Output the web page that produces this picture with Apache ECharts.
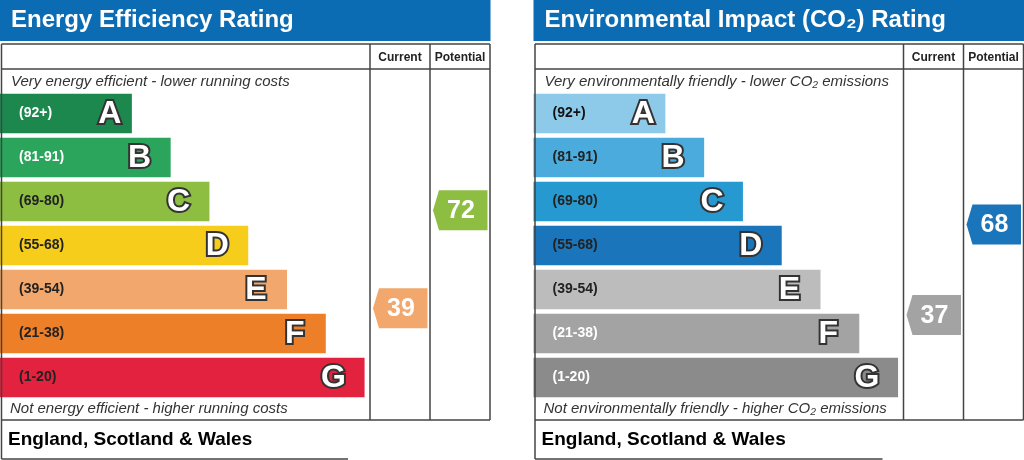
<!DOCTYPE html>
<html>
<head>
<meta charset="utf-8">
<script src="https://cdn.jsdelivr.net/npm/echarts@6/dist/echarts.min.js"></script>
<style>
html,body{margin:0;padding:0;background:#fff;}
#c{width:1024px;height:460px;}
</style>
</head>
<body>
<div id="c"></div>
<script>
// ---------- data ----------
const bandLetters = ['A', 'B', 'C', 'D', 'E', 'F', 'G'];
const bandRanges = ['(92+)', '(81-91)', '(69-80)', '(55-68)', '(39-54)', '(21-38)', '(1-20)'];
const bandMin = [92, 81, 69, 55, 39, 21, 1];
const bandLength = [34, 44, 54, 64, 74, 84, 94];
const energyColors = ['#1c884e', '#2ba45c', '#8dbd41', '#f6cd1a', '#f2a86c', '#ec7f28', '#e2223e'];
const energyRangeText = ['#fff', '#fff', '#222', '#222', '#222', '#222', '#222'];
const co2Colors = ['#8dcaea', '#4aabdc', '#2699d1', '#1b75ba', '#bcbcbc', '#a3a3a3', '#8b8b8b'];
const co2RangeText = ['#111', '#222', '#222', '#222', '#222', '#fff', '#fff'];
const ratingColumns = ['Current', 'Potential'];
const energyRatings = [39, 72];
const co2Ratings = [37, 68];

const FONT = '"Liberation Sans", Arial, Helvetica, sans-serif';
const LINE = '#444';

function bandIndex(v) {
  for (let i = 0; i < bandMin.length; i++) if (v >= bandMin[i]) return i;
  return bandMin.length - 1;
}

function bandSeries(gridIdx, colors, rangeText) {
  const main = {
    type: 'bar', xAxisIndex: gridIdx, yAxisIndex: gridIdx, barWidth: 39.5, silent: true,
    data: bandLength.map((v, i) => ({
      value: v,
      itemStyle: { color: colors[i] },
      label: { color: rangeText[i] }
    })),
    label: {
      show: true, position: 'insideLeft', distance: 19,
      formatter: p => bandRanges[p.dataIndex],
      fontFamily: FONT, fontSize: 14, fontWeight: 'bold'
    },
    z: 2
  };
  const letters = {
    type: 'bar', xAxisIndex: gridIdx, yAxisIndex: gridIdx, barWidth: 39.5, barGap: '-100%', silent: true,
    data: bandLength.map((v, i) => ({
      value: v,
      label: { offset: [i === 0 ? -22 : -31, 1] }
    })),
    itemStyle: { color: 'rgba(0,0,0,0)' },
    label: {
      show: true, position: ['100%', '50%'], align: 'center', verticalAlign: 'middle',
      formatter: p => bandLetters[p.dataIndex],
      fontFamily: FONT, fontSize: 32, fontWeight: 'bold',
      color: '#fff', textBorderColor: '#333', textBorderWidth: 4
    },
    z: 3
  };
  return [main, letters];
}

function arrowSeries(gridIdx, ratings, colors) {
  return {
    type: 'custom', xAxisIndex: gridIdx, yAxisIndex: gridIdx, silent: true,
    data: ratings.map((v, i) => [i, v]),
    renderItem: function (params, api) {
      const v = api.value(1);
      const p = api.coord([api.value(0), v]);
      const cx = p[0], cy = p[1], h = 20;
      const pts = [[cx - 27, cy], [cx - 21, cy - h], [cx + 27.5, cy - h], [cx + 27.5, cy + h], [cx - 21, cy + h]];
      return {
        type: 'group',
        children: [
          { type: 'polygon', shape: { points: pts }, style: { fill: colors[bandIndex(v)] } },
          {
            type: 'text', x: cx + 1, y: cy + 1,
            style: {
              text: String(v), fill: '#fff', fontFamily: FONT, fontSize: 25, fontWeight: 'bold',
              align: 'center', verticalAlign: 'middle', textAlign: 'center', textVerticalAlign: 'middle'
            }
          }
        ]
      };
    },
    z: 4
  };
}

// ---------- frame (decoration) ----------
function panelGraphics(ox, footerW, title, topText, bottomText) {
  const els = [];
  const line = (x1, y1, x2, y2) => els.push({
    type: 'line', z: 100, shape: { x1: x1, y1: y1, x2: x2, y2: y2 },
    style: { stroke: LINE, lineWidth: 1.5 }
  });
  const text = (x, y, t, font, fill, align) => els.push({
    type: 'text', z: 101, x: x, y: y,
    style: {
      text: t, font: font, fill: fill,
      align: align || 'left', verticalAlign: 'middle',
      textAlign: align || 'left', textVerticalAlign: 'middle'
    }
  });
  els.push({ type: 'rect', z: 99, shape: { x: ox, y: 0, width: 490.5, height: 41 }, style: { fill: '#0c6cb3' } });
  text(ox + 11, 20.5, title, 'bold 24px ' + FONT, '#fff');
  // table
  line(ox + 1.5, 44, ox + 490, 44);
  line(ox + 1.5, 69, ox + 490, 69);
  line(ox + 1.5, 420, ox + 490, 420);
  line(ox + 1.5, 44, ox + 1.5, 459);
  line(ox + 370, 44, ox + 370, 420);
  line(ox + 430, 44, ox + 430, 420);
  line(ox + 490, 44, ox + 490, 420);
  line(ox + 1.5, 459, ox + footerW, 459);
  text(ox + 400, 57.5, ratingColumns[0], 'bold 12px ' + FONT, '#222', 'center');
  text(ox + 460, 57.5, ratingColumns[1], 'bold 12px ' + FONT, '#222', 'center');
  text(ox + 11, 81.5, topText, 'italic 15px ' + FONT, '#333');
  text(ox + 10, 408.5, bottomText, 'italic 15px ' + FONT, '#333');
  text(ox + 8, 439.5, 'England, Scotland & Wales', 'bold 19px ' + FONT, '#000');
  return els;
}

const graphics = [].concat(
  panelGraphics(0, 348, 'Energy Efficiency Rating',
    'Very energy efficient - lower running costs', 'Not energy efficient - higher running costs'),
  panelGraphics(533.5, 349, 'Environmental Impact (CO\u2082) Rating',
    'Very environmentally friendly - lower CO\u2082 emissions', 'Not environmentally friendly - higher CO\u2082 emissions')
);

const hiddenVal = (max) => ({ type: 'value', min: 0, max: max, show: false, splitLine: { show: false } });
const hiddenCatY = (gi) => ({ type: 'category', gridIndex: gi, data: bandLetters, inverse: true, show: false });

const option = {
  animation: false,
  backgroundColor: '#fff',
  grid: [
    { left: 0, top: 91.5, width: 370, height: 308 },
    { left: 370, top: 127, width: 120, height: 297 },
    { left: 533.5, top: 91.5, width: 370, height: 308 },
    { left: 903.5, top: 131, width: 120, height: 292 }
  ],
  xAxis: [
    Object.assign(hiddenVal(95.4), { gridIndex: 0 }),
    { type: 'category', gridIndex: 1, data: ratingColumns, show: false },
    Object.assign(hiddenVal(95.4), { gridIndex: 2 }),
    { type: 'category', gridIndex: 3, data: ratingColumns, show: false }
  ],
  yAxis: [
    hiddenCatY(0),
    Object.assign(hiddenVal(100), { gridIndex: 1 }),
    hiddenCatY(2),
    Object.assign(hiddenVal(100), { gridIndex: 3 })
  ],
  series: [].concat(
    bandSeries(0, energyColors, energyRangeText),
    [arrowSeries(1, energyRatings, energyColors)],
    bandSeries(2, co2Colors, co2RangeText),
    [arrowSeries(3, co2Ratings, co2Colors)]
  ),
  graphic: { elements: graphics }
};

const chart = echarts.init(document.getElementById('c'), null, { renderer: 'canvas' });
chart.setOption(option);
</script>
</body>
</html>
